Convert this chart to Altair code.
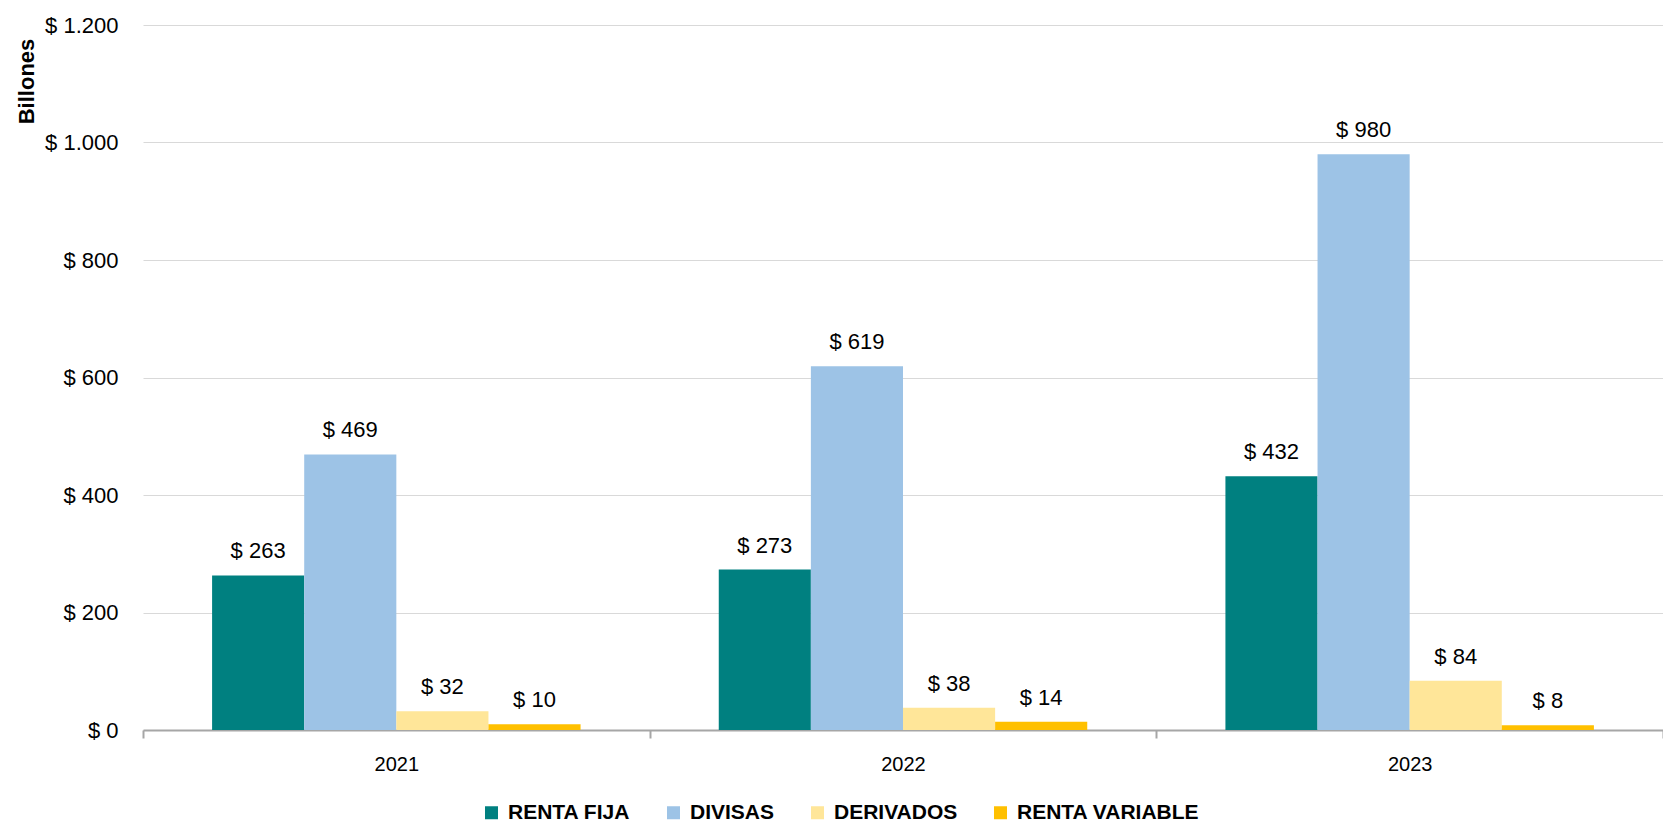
import altair as alt
import pandas as pd

years = ["2021", "2022", "2023"]
series = ["RENTA FIJA", "DIVISAS", "DERIVADOS", "RENTA VARIABLE"]
renta_fija = [263, 273, 432]
divisas = [469, 619, 980]
derivados = [32, 38, 84]
renta_variable = [10, 14, 8]
colors = ["#008080", "#9DC3E6", "#FFE699", "#FFC000"]
y_ticks = [0, 200, 400, 600, 800, 1000, 1200]

rows = []
for name, vals in zip(series, [renta_fija, divisas, derivados, renta_variable]):
    for yr, v in zip(years, vals):
        rows.append({"year": yr, "serie": name, "valor": v})
df = pd.DataFrame(rows)

FONT = "Liberation Sans"
fmt = "'$ ' + replace(format(datum.value, ',d'), ',', '.')"

x = alt.X(
    "year:N", sort=years, title=None,
    scale=alt.Scale(paddingInner=0, paddingOuter=0),
    axis=alt.Axis(
        labelAngle=0, tickBand="extent", ticks=True, tickSize=8,
        tickColor="#a6a6a6", tickWidth=2, domainColor="#a6a6a6", domainWidth=2,
        labelPadding=16, labelFontSize=20, labelColor="black", labelFont=FONT,
        labelBaseline="top", grid=False,
    ),
)
xoff = alt.XOffset("serie:N", sort=series,
                   scale=alt.Scale(paddingInner=0, paddingOuter=0.75))
y = alt.Y(
    "valor:Q",
    scale=alt.Scale(domain=[0, 1200], nice=False),
    axis=alt.Axis(
        values=y_ticks, labelExpr=fmt, title="Billones",
        titleAngle=270, titleX=-117, titleY=56, titleAlign="center",
        titleBaseline="middle", titleFontSize=22, titleFontWeight="bold",
        titleFont=FONT, titleColor="black",
        grid=True, gridColor="#d9d9d9", gridWidth=1, domain=False, ticks=False,
        labelPadding=25, labelFontSize=22, labelFont=FONT, labelColor="black",
    ),
)
color = alt.Color(
    "serie:N", sort=series,
    scale=alt.Scale(domain=series, range=colors),
    legend=alt.Legend(
        orient="none", legendX=338, legendY=777, direction="horizontal",
        title=None, symbolType="square", symbolSize=169, symbolStrokeWidth=0,
        labelFontSize=21, labelFontWeight="bold", labelFont=FONT,
        labelColor="black", columnPadding=32, labelOffset=6, padding=0,
        labelLimit=0,
    ),
)

bars = alt.Chart(df).mark_bar().encode(x=x, xOffset=xoff, y=y, color=color)
labels = alt.Chart(df).transform_calculate(
    label="'$ ' + replace(format(datum.valor, ',d'), ',', '.')"
).mark_text(dy=-24, fontSize=22, font=FONT, color="black", baseline="middle").encode(
    x=x, xOffset=xoff, y=y, text="label:N"
)

chart = alt.layer(bars, labels).properties(
    width=1520, height=705,
    autosize=alt.AutoSizeParams(type="none"),
    padding={"left": 135, "top": 17, "right": 0, "bottom": 92},
).configure_view(stroke=None)

chart.save("out.html", embed_options={"renderer": "svg", "actions": False})
